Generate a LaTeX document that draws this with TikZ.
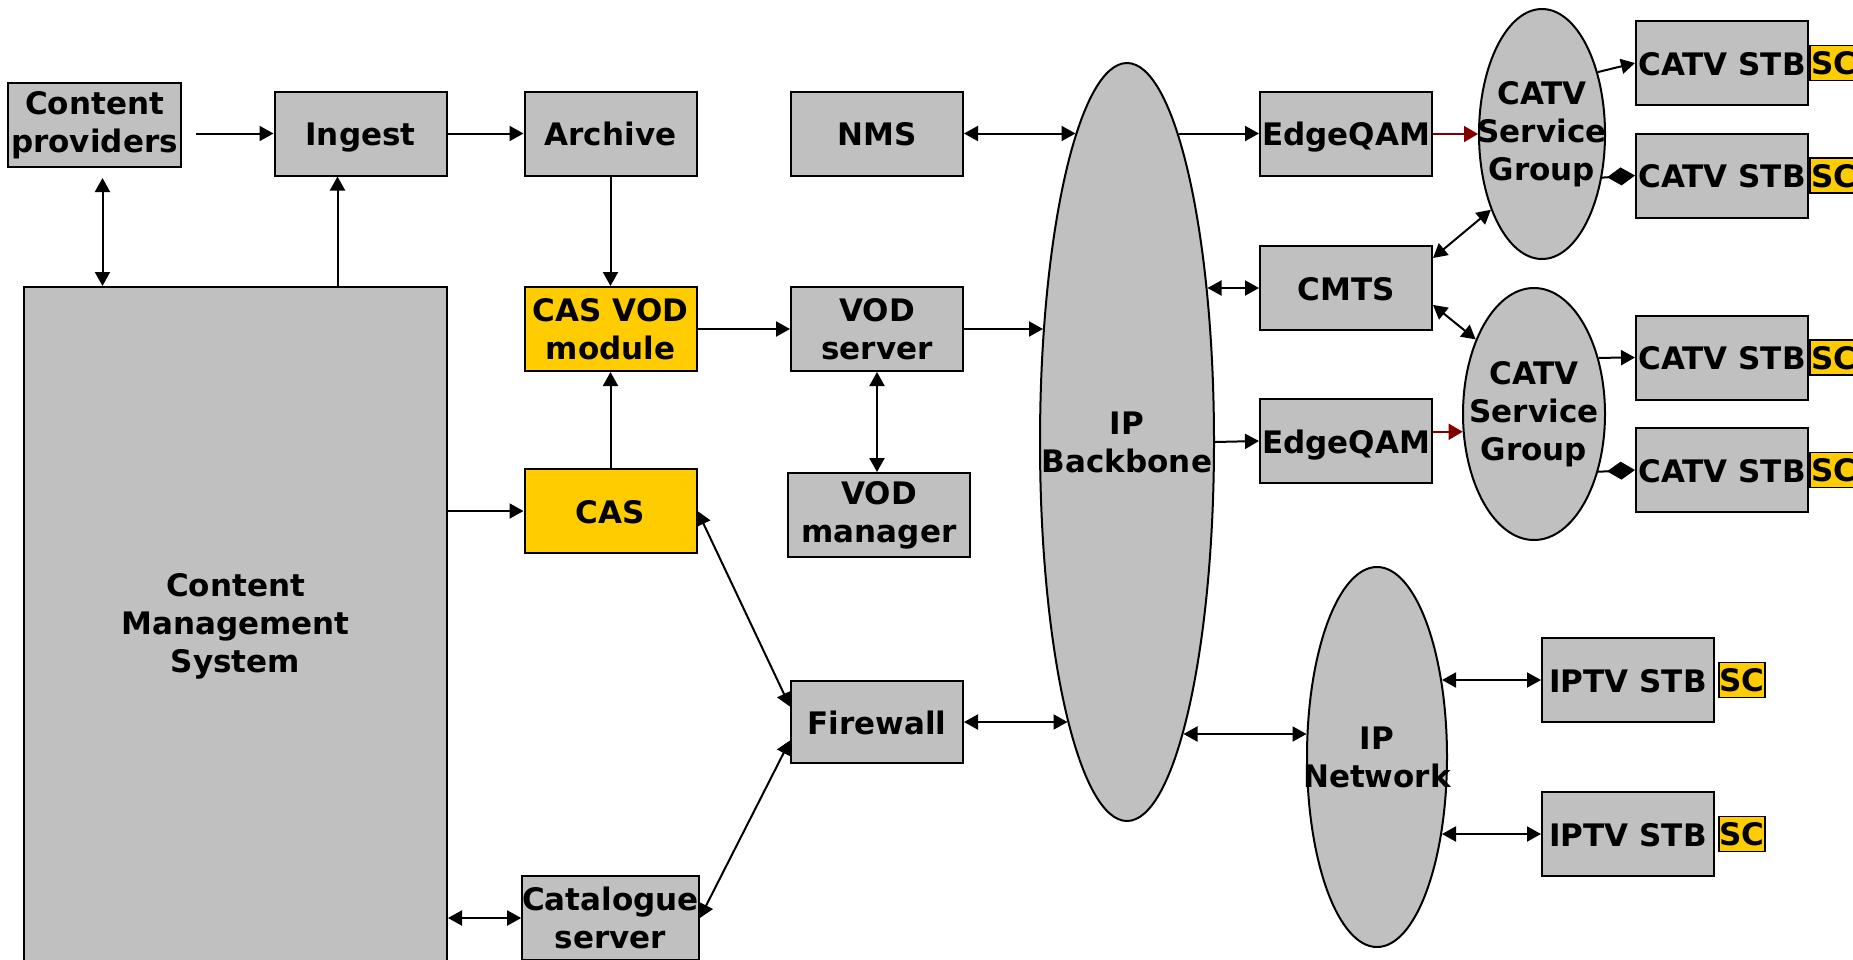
\documentclass[tikz,border=0pt]{standalone}
\usepackage{fontspec}
\setmainfont{DejaVu Sans}
\usetikzlibrary{shapes.geometric,arrows.meta,positioning,calc}
\definecolor{boxgray}{HTML}{C0C0C0}
\definecolor{casyellow}{HTML}{FFCC00}
\definecolor{qamred}{HTML}{800000}
\newcommand{\lblfont}{\fontsize{31}{38}\selectfont\bfseries}
\tikzset{
	box/.style={draw, fill=boxgray, line width=2pt, minimum width=172pt, minimum height=84pt, inner sep=0pt, align=center, font=\lblfont},
	oneline/.style={text height=24pt, text depth=0pt},
	casbox/.style={box, fill=casyellow},
	scbox/.style={draw, fill=casyellow, line width=1.5pt, minimum width=48pt, minimum height=35pt, inner sep=0pt, font=\lblfont, text height=23pt, text depth=0pt},
	cloud/.style={ellipse, draw, fill=boxgray, line width=2pt, inner sep=0pt},
	cloudtxt/.style={align=center, font=\lblfont, inner sep=0pt},
	arr/.style={line width=2pt, -{Triangle[length=14pt,width=15pt]}},
	darr/.style={line width=2pt, {Triangle[length=14pt,width=15pt]}-{Triangle[length=14pt,width=15pt]}},
	redarr/.style={qamred, line width=1.5pt, -{Triangle[length=14pt,width=16pt]}},
	diaarr/.style={line width=2pt, -{Diamond[length=28pt,width=18pt]}}
}
\begin{document}
\begin{tikzpicture}[x=1pt,y=-1pt]
		\useasboundingbox (0,0) rectangle (1853,959);
		\clip (0,0) rectangle (1853,959);
		
		\node (cp) at (94.5,125) [box, minimum width=173pt] {Content\\providers};
		\node (ingest) at (360.5,133.5) [box, oneline] {Ingest};
		\node (archive) at (610.5,133.5) [box, oneline] {Archive};
		\node (nms) at (877,133.5) [box, oneline] {NMS};
		\node (cms) at (235.5,626) [box, minimum width=423pt, minimum height=678pt] {Content\\Management\\System};
		\node (casvod) at (610.5,329) [casbox] {CAS VOD\\module};
		\node (cas) at (610.5,511) [casbox, oneline] {CAS};
		\node (cat) at (610.5,918) [box] {Catalogue\\server};
		\node (vods) at (877,329) [box] {VOD\\server};
		\node (vodm) at (879,515) [box, minimum width=182pt] {VOD\\manager};
		\node (fw) at (877,722) [box, oneline, minimum height=82pt] {Firewall};
		
		\node (bb) at (1127,442) [cloud, minimum width=174pt, minimum height=758pt] {};
		\node (bbtxt) at (bb) [cloudtxt] {IP\\Backbone};
		\node (eq1) at (1346,133.5) [box, oneline] {EdgeQAM};
		\node (cmts) at (1346,288) [box, oneline] {CMTS};
		\node (eq2) at (1346,441) [box, oneline] {EdgeQAM};
		\node (sg1) at (1542,134) [cloud, minimum width=126pt, minimum height=250pt] {};
		\node (sg1txt) at (sg1) [cloudtxt] {CATV\\Service\\Group};
		\node (sg2) at (1534,414) [cloud, minimum width=142pt, minimum height=252pt] {};
		\node (sg2txt) at (sg2) [cloudtxt] {CATV\\Service\\Group};
		\node (ipn) at (1377,757) [cloud, minimum width=140pt, minimum height=380pt] {};
		\node (ipntxt) at (ipn) [cloudtxt] {IP\\Network};
		
		\foreach \i/\y in {1/63, 2/175.5, 3/357.5, 4/470} {
			\node (stb\i) at (1722,\y) [box, oneline] {CATV STB};
			\node (sc\i) [scbox, right=0pt of stb\i] {SC};
		}
		\foreach \i/\y in {1/680, 2/834} {
			\node (iptv\i) at (1628,\y) [box, oneline] {IPTV STB};
			\node (ipsc\i) [scbox, minimum width=46pt, right=3pt of iptv\i] {SC};
		}
		
		\coordinate (bbnms) at ($(bb.center)+(-51.5,-308.5)$);
		\coordinate (bbeq1) at ($(bb.center)+(51.5,-308.5)$);
		\coordinate (bbvod) at ($(bb.center)+(-84,-113)$);
		\coordinate (bbcmts) at ($(bb.center)+(80.5,-154)$);
		\coordinate (bbfw) at ($(bb.center)+(-59.5,280)$);
		\coordinate (bbipn) at ($(bb.center)+(56.5,292)$);
		\coordinate (ipnbb) at ($(ipn.center)+(-70.5,-23)$);
		\coordinate (ipntv1) at ($(ipn.center)+(65,-77)$);
		\coordinate (ipntv2) at ($(ipn.center)+(65,77)$);
		
		\draw[arr, shorten <=14pt] (ingest.west -| cp.east) -- (ingest.west);
		\draw[arr] (ingest) -- (archive);
		\draw[darr, shorten <=10pt] ([xshift=8pt]cp.south) -- ([xshift=8pt]cp.south |- cms.north);
		\draw[arr] ([xshift=-23pt]ingest.south |- cms.north) -- ([xshift=-23pt]ingest.south);
		\draw[arr] (archive) -- (casvod);
		\draw[arr] (cas) -- (casvod);
		\draw[arr] (cas.west -| cms.east) -- (cas.west);
		\draw[darr] (cat.west -| cms.east) -- (cat.west);
		\draw[arr] (casvod) -- (vods);
		\draw[darr] (vods.south) -- (vods.south |- vodm.north);
		\draw[darr] (cas.east) -- (fw.170);
		\draw[darr] (cat.east) -- (fw.192.5);
		
		\draw[arr] (bbvod -| vods.east) -- (bbvod);
		\draw[darr] (nms.east) -- (bbnms);
		\draw[darr] (fw.east) -- (bbfw);
		\draw[arr] (bbeq1) -- (eq1.west);
		\draw[darr] (bbcmts) -- (bbcmts -| cmts.west);
		\draw[arr] (bb.east) -- (eq2.west);
		\draw[darr] (bbipn) -- (ipnbb);
		
		\draw[redarr] (sg1.west -| eq1.east) -- (sg1.west);
		\draw[redarr] (sg2.194.4 -| eq2.east) -- (sg2.194.4);
		\draw[darr] (cmts.19) -- (sg1.236.1);
		\draw[darr] (cmts.349) -- (sg2.128.8);
		
		\draw[arr] (sg1.48.8) -- (stb1.west);
		\draw[diaarr] (sg1.324.7) -- (stb2.west);
		\draw[arr] (sg2.41.4) -- (stb3.west);
		\draw[diaarr] (sg2.318.6) -- (stb4.west);
		
		\draw[darr] (ipntv1) -- (iptv1.west);
		\draw[darr] (ipntv2) -- (iptv2.west);
		
	\end{tikzpicture}
\end{document}
